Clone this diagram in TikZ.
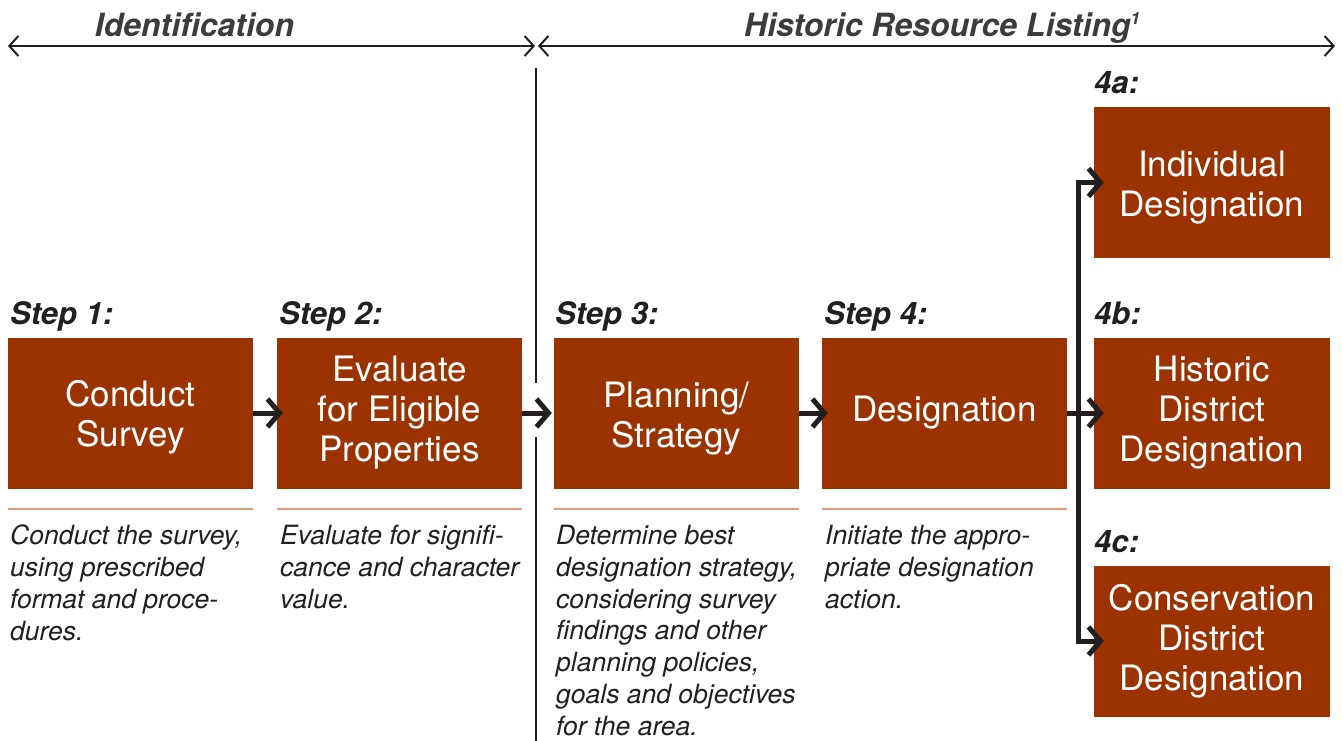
\documentclass[tikz,border=0pt]{standalone}
\usepackage{fontspec}
\setmainfont{TeX Gyre Heros}
\usetikzlibrary{arrows.meta}
\definecolor{boxc}{HTML}{9A3300}
\definecolor{rulec}{HTML}{D39B82}
\definecolor{ink}{HTML}{231F20}
\definecolor{headc}{HTML}{3C3C3C}
\newcommand{\lowr}{\rule{0pt}{34pt}}
\begin{document}
\begin{tikzpicture}[x=1pt,y=-1pt,
 stepbox/.style={fill=boxc, text=white, minimum width=245pt, minimum height=151pt, inner sep=0pt, align=center, font=\fontsize{35}{40}\selectfont},
 subbox/.style={stepbox, minimum width=236pt},
 steplabel/.style={anchor=base west, inner sep=0pt, text=ink, font=\fontsize{31}{36}\selectfont\bfseries\itshape},
 desc/.style={anchor=north west, inner sep=0pt, text=ink, align=left, font=\fontsize{26.5}{31.8}\selectfont\itshape},
 flow/.style={draw=ink, line width=5pt, -{Straight Barb[length=12pt,width=28pt]}, line join=miter},
 span/.style={draw=ink, line width=2pt, {Straight Barb[length=9pt,width=20pt]}-{Straight Barb[length=9pt,width=20pt]}},
 hdr/.style={inner sep=0pt, text=headc, font=\fontsize{32}{38}\selectfont\bfseries\itshape},
 rulel/.style={draw=rulec, line width=2pt},
 sep/.style={draw=ink, line width=1.2pt}]
\fill[white] (0,0) rectangle (1342,741);
\useasboundingbox (0,0) rectangle (1342,741);

% headers
\node[hdr, anchor=base] (h1) at (194.5,37) {Identification};
\node[hdr, anchor=base west] (h2) at (744,37) {Historic Resource Listing\raisebox{0.75ex}{\fontsize{17}{17}\selectfont 1}};
\coordinate (a0) at (8,46);
\coordinate (a1) at (535,46);
\coordinate (a2) at (538,46);
\coordinate (a3) at (1335,46);
\draw[span] (a0) -- (a1);
\draw[span] (a2) -- (a3);

% separator
\coordinate (v0) at (536,68);
\coordinate (v1) at (536,383);
\coordinate (v2) at (536,437);
\coordinate (v3) at (536,741);
\draw[sep] (v0) -- (v1);
\draw[sep] (v2) -- (v3);

% boxes
\node[stepbox] (s1) at (130.5,413) {\lowr Conduct\\Survey};
\node[stepbox] (s2) at (399.5,413) {Evaluate\\for Eligible\\Properties};
\node[stepbox] (s3) at (676.5,413) {\rule{0pt}{37pt}Planning/\\Strategy};
\node[stepbox] (s4) at (944.5,413) {Designation};
\node[subbox] (s4a) at (1212,182.5) {\rule{0pt}{35pt}Individual\\Designation};
\node[subbox] (s4b) at (1212,413) {Historic\\District\\Designation};
\node[subbox] (s4c) at (1212,641) {Conservation\\District\\Designation};

% labels
\node[steplabel] (l1) at (10,324) {Step 1:};
\node[steplabel] (l2) at (279,324) {Step 2:};
\node[steplabel] (l3) at (555,324) {Step 3:};
\node[steplabel] (l4) at (824,324) {Step 4:};
\node[steplabel] (l4a) at (1094,94) {4a:};
\node[steplabel] (l4b) at (1094,324) {4b:};
\node[steplabel] (l4c) at (1094,552) {4c:};

% rules
\foreach \n in {s1,s2,s3,s4}{
  \draw[rulel] ([yshift=-20pt]\n.south west) -- ([yshift=-20pt]\n.south east);
}

% descriptions
\node[desc] (d1) at (10,525) {Conduct the survey,\\using prescribed\\format and proce-\\dures.};
\node[desc] (d2) at (280,525) {Evaluate for signifi-\\cance and character\\value.};
\node[desc] (d3) at (556,525) {Determine best\\designation strategy,\\considering survey\\findings and other\\planning policies,\\goals and objectives\\for the area.};
\node[desc] (d4) at (825,525) {Initiate the appro-\\priate designation\\action.};

% connectors
\draw[flow] (s1.east) -- ([xshift=6pt]s2.west);
\draw[flow] (s2.east) -- ([xshift=-2pt]s3.west);
\draw[flow] (s3.east) -- ([xshift=6pt]s4.west);
\coordinate (j) at (1078,413);
\draw[flow] (s4.east) -- ([xshift=10pt]s4b.west);
\draw[flow] (j) |- ([xshift=10pt]s4a.west);
\draw[flow] (j) |- ([xshift=10pt]s4c.west);
\end{tikzpicture}
\end{document}
